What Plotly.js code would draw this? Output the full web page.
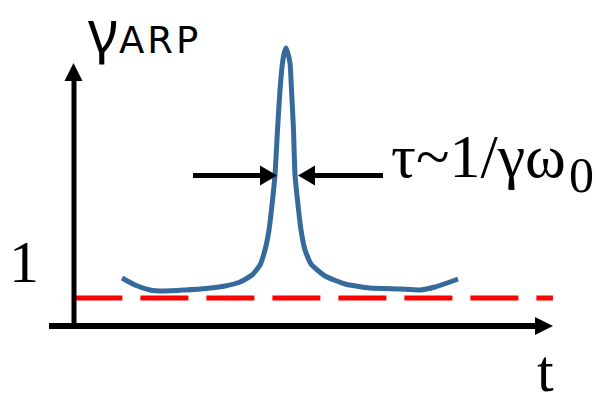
<!DOCTYPE html>
<html>
<head>
<meta charset="utf-8">
<script src="https://cdn.plot.ly/plotly-3.0.1.min.js"></script>
<style>html,body{margin:0;padding:0;background:#fff;}#chart{width:596px;height:395px;}</style>
</head>
<body>
<div id="chart"></div>
<script>
// Schematic ARP gamma pulse vs time (arbitrary units; gamma = 1 baseline)
const tValues = [1.75, 2.214, 2.75, 3.286, 4.0, 4.536, 5.429, 5.964, 6.393, 6.679, 6.857, 7.0, 7.107, 7.214, 7.304, 7.393, 7.482, 7.554, 7.607, 7.661, 7.75, 7.804, 7.875, 7.929, 8.036, 8.143, 8.286, 8.5, 9.0, 9.714, 10.607, 11.679, 12.393, 12.929, 13.75];
const gammaValues = [1.714, 1.464, 1.286, 1.25, 1.286, 1.321, 1.429, 1.571, 1.821, 2.179, 2.714, 3.429, 4.321, 5.393, 7.0, 8.429, 9.393, 9.786, 9.929, 9.786, 9.393, 8.429, 7.0, 5.393, 4.321, 3.429, 2.714, 2.214, 1.786, 1.5, 1.357, 1.321, 1.286, 1.393, 1.679];
const baselineT = [0.05, 17.14];
const baselineGamma = [1, 1];
const yTickLabel = "1";
const xAxisLabel = "t";
const yAxisSymbol = "γ";
const yAxisSub = "ARP";
const widthLabel = "τ~1/γω";
const widthLabelSub = "0";

// helpers: page pixel -> axis units (layout only)
const S = 28;
const X = p => (p - 73) / S;
const Y = p => (326 - p) / S;

const traces = [
  {x: baselineT, y: baselineGamma, mode: 'lines', line: {color: '#ff0000', width: 5, dash: '48px,18px'}, hoverinfo: 'skip'},
  {x: tValues, y: gammaValues, mode: 'lines', line: {color: '#36699c', width: 5, shape: 'spline', smoothing: 0.5}, hoverinfo: 'skip'}
];

function tri(a, b, c) {
  return {type: 'path', xref: 'x', yref: 'y', fillcolor: '#000', line: {width: 0},
    path: `M ${X(a[0])} ${Y(a[1])} L ${X(b[0])} ${Y(b[1])} L ${X(c[0])} ${Y(c[1])} Z`};
}
function seg(x0, y0, x1, y1, w) {
  return {type: 'line', xref: 'x', yref: 'y', x0: X(x0), y0: Y(y0), x1: X(x1), y1: Y(y1), line: {color: '#000', width: w}};
}

const shapes = [
  seg(49, 326, 538, 326, 6),
  tri([535, 317], [553, 326], [535, 335]),
  seg(74, 326, 74, 78, 5),
  tri([64.5, 81], [73.5, 63], [82.5, 81]),
  seg(193, 175.5, 262, 175.5, 5),
  tri([260, 165.5], [277, 175.5], [260, 185.5]),
  seg(313, 175.5, 383, 175.5, 5),
  tri([315, 165.5], [298, 175.5], [315, 185.5])
];

const serif = 'Liberation Serif, DejaVu Serif, serif';
const ann = (txt, px, py, size, family, xa) => ({
  text: txt, x: X(px), y: Y(py), xref: 'x', yref: 'y', showarrow: false,
  xanchor: xa || 'center', yanchor: 'middle', font: {family: family, size: size, color: '#000'}
});

const annotations = [
  ann(yTickLabel, 24, 262, 60, serif),
  ann(xAxisLabel, 545, 371, 60, serif),
  ann(yAxisSymbol, 103, 29, 58, 'Noto Sans, sans-serif'),
  ann('<span style="letter-spacing:3px">' + yAxisSub + '</span>', 117, 40, 37, 'DejaVu Sans, sans-serif', 'left'),
  ann(widthLabel, 389, 156, 62, serif, 'left'),
  ann(widthLabelSub, 581, 175, 50, serif)
];

const layout = {
  width: 596, height: 395,
  margin: {l: 0, r: 0, t: 0, b: 0},
  paper_bgcolor: '#fff', plot_bgcolor: '#fff',
  showlegend: false,
  xaxis: {range: [X(0), X(596)], visible: false, fixedrange: true},
  yaxis: {range: [Y(395), Y(0)], visible: false, fixedrange: true},
  shapes: shapes,
  annotations: annotations
};

Plotly.newPlot('chart', traces, layout, {displayModeBar: false, staticPlot: true});
</script>
</body>
</html>
